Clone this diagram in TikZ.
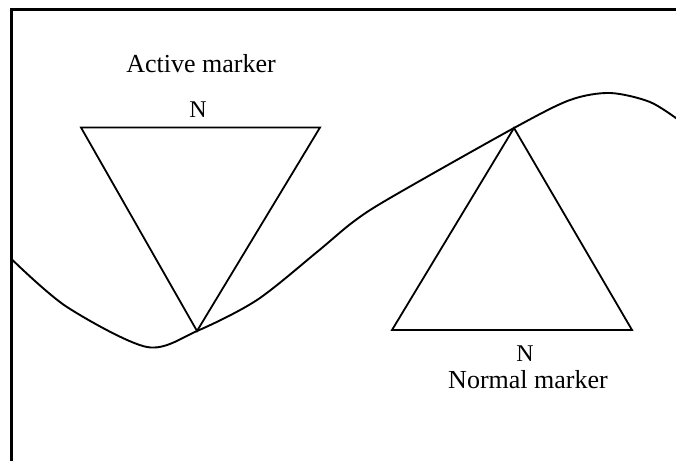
\documentclass[tikz,border=0pt]{standalone}
\usepackage{fontspec}
\setmainfont{Liberation Serif}
\begin{document}
\begin{tikzpicture}[x=1pt,y=-1pt,
  frameline/.style={line width=3.2pt},
  thinline/.style={line width=1.8pt, line join=miter},
  curveline/.style={line width=1.9pt},
  bigtext/.style={font=\fontsize{26}{30}\selectfont, inner sep=0pt, anchor=base},
  ntext/.style={font=\fontsize{24}{28}\selectfont, inner sep=0pt, anchor=base}]
\useasboundingbox (0,0) rectangle (676,461);
% frame
\draw[frameline] (11.3,461) -- (11.3,9.8) -- (676,9.8);
% active marker triangle
\coordinate (a1) at (81,127.5);
\coordinate (a2) at (320,127.5);
\coordinate (at) at (197,331);
\draw[thinline] (a1) -- (a2) -- (at) -- cycle;
% normal marker triangle
\coordinate (nt) at (514,128);
\coordinate (n1) at (392,330);
\coordinate (n2) at (632,330);
\draw[thinline] (nt) -- (n2) -- (n1) -- cycle;
% curve
\draw[curveline] plot[smooth, tension=0.5] coordinates {
  (12.5,260) (67,307) (147,347) (at) (257,300) (317,252) (353,222) (390,198) (nt) (570,100) (610,93) (650,102) (680,121)};
% labels
\node[bigtext] (alabel) at (201,72) {Active marker};
\node[ntext] (aN) at (198,117) {N};
\node[ntext] (nN) at (525,361) {N};
\node[bigtext] (nlabel) at (528,388) {Normal marker};
\end{tikzpicture}
\end{document}
